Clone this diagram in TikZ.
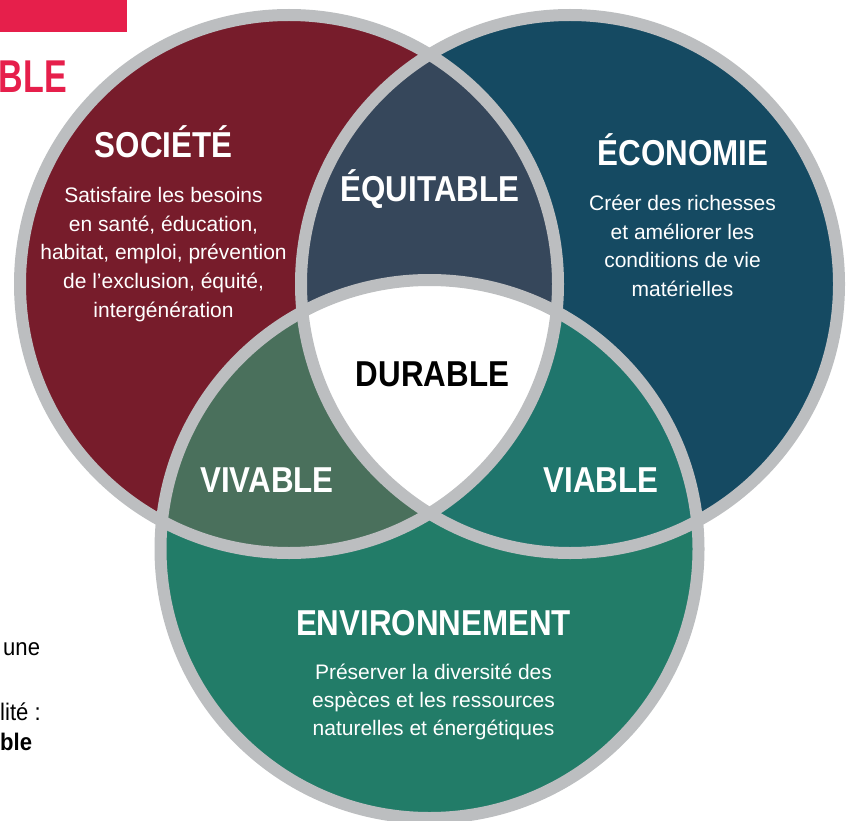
\documentclass[tikz,border=0pt]{standalone}
\usepackage{graphicx}
\usepackage{fontspec}
\setmainfont{Liberation Sans}[BoldFeatures={FakeStretch=0.87}]
\newfontfamily\sidefont{Liberation Sans}[FakeStretch=0.92]
\definecolor{socred}{HTML}{771C2B}
\definecolor{ecoblue}{HTML}{154A62}
\definecolor{envgreen}{HTML}{227C68}
\definecolor{equit}{HTML}{36475B}
\definecolor{vivab}{HTML}{4A705C}
\definecolor{viab}{HTML}{1F756C}
\definecolor{ring}{HTML}{BCBEC0}
\definecolor{pinkred}{HTML}{E61F4B}
\begin{document}
\begin{tikzpicture}[x=1pt,y=-1pt,
  title/.style={font=\bfseries\fontsize{36}{36}\selectfont, text=white, inner sep=0pt, anchor=base},
  body/.style={font=\fontsize{21}{21}\selectfont, text=white, inner sep=0pt, anchor=base},
  side/.style={font=\sidefont\fontsize{24}{24}\selectfont, text=black, inner sep=0pt, anchor=base west}]
\useasboundingbox (0,0) rectangle (851,821);
\def\R{269pt}
\coordinate (S) at (289,284);
\coordinate (E) at (570,284);
\coordinate (V) at (429.5,549);
% header fragments
\fill[pinkred] (0,0) rectangle (127,32);
\node[font=\bfseries\fontsize{46}{46}\selectfont, text=pinkred, inner sep=0pt, anchor=base east] (ble) at (67,93) {\scalebox{0.85}[1]{BLE}};
% circles
\fill[socred] (S) circle[radius=\R];
\fill[ecoblue] (E) circle[radius=\R];
\fill[envgreen] (V) circle[radius=\R];
\begin{scope}
  \clip (S) circle[radius=\R];
  \fill[equit] (E) circle[radius=\R];
  \fill[vivab] (V) circle[radius=\R];
\end{scope}
\begin{scope}
  \clip (E) circle[radius=\R];
  \fill[viab] (V) circle[radius=\R];
\end{scope}
\begin{scope}
  \clip (S) circle[radius=\R];
  \clip (E) circle[radius=\R];
  \fill[white] (V) circle[radius=\R];
\end{scope}
\draw[ring, line width=12pt] (S) circle[radius=\R];
\draw[ring, line width=12pt] (E) circle[radius=\R];
\draw[ring, line width=12pt] (V) circle[radius=\R];
% titles
\node[title] (soc) at (163.5,157.5) {SOCIÉTÉ};
\node[title] (eco) at (683,166) {ÉCONOMIE};
\node[title] (equ) at (430,201.5) {ÉQUITABLE};
\node[title, text=black] (dur) at (432.5,386.5) {DURABLE};
\node[title] (viv) at (267,492.5) {VIVABLE};
\node[title] (via) at (601,492.5) {VIABLE};
\node[title] (env) at (433.5,635) {ENVIRONNEMENT};
% body texts
\foreach \t [count=\i] in {Satisfaire les besoins, {en santé, éducation,}, {habitat, emploi, prévention}, {de l'exclusion, équité,}, intergénération}
  \node[body] (s\i) at (163.5,{202.7+28.6*(\i-1)}) {\t};
\foreach \t [count=\i] in {Créer des richesses, et améliorer les, conditions de vie, matérielles}
  \node[body] (e\i) at (682.5,{210.7+28.6*(\i-1)}) {\t};
\foreach \t [count=\i] in {Préserver la diversité des, espèces et les ressources, naturelles et énergétiques}
  \node[body] (v\i) at (433.5,{679.3+28.3*(\i-1)}) {\t};
% side fragments
\node[side] (une) at (3,655) {une};
\node[side] (lite) at (0,720) {lité :};
\node[side, font=\sidefont\bfseries\fontsize{24}{24}\selectfont] (bleb) at (0,750) {ble};
\end{tikzpicture}
\end{document}
